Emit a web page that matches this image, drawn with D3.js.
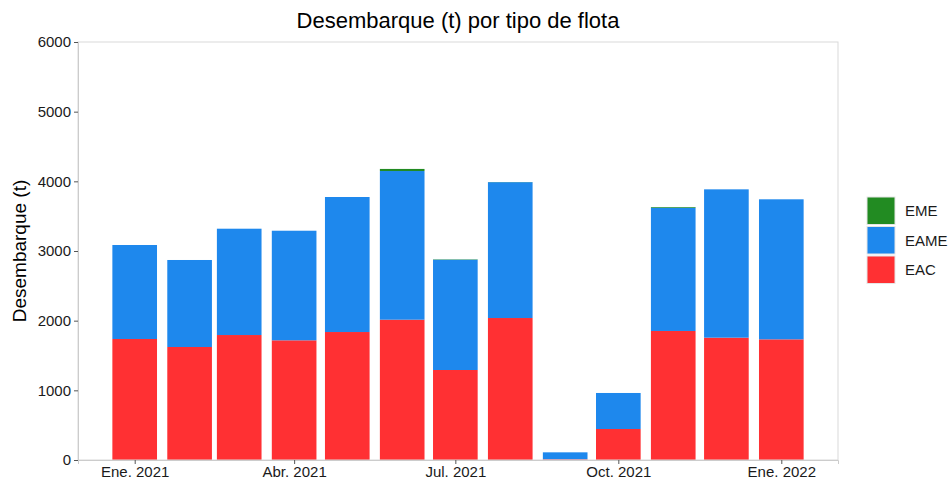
<!DOCTYPE html>
<html>
<head>
<meta charset="utf-8">
<script src="https://cdn.jsdelivr.net/npm/d3@7"></script>
<style>
  body { margin: 0; background: #fff; }
  text { font-family: "Liberation Sans", Arial, sans-serif; }
</style>
</head>
<body>
<script>
// monthly landings (t) by fleet type
const months = ["2021-01-01", "2021-02-01", "2021-03-01", "2021-04-01", "2021-05-01", "2021-06-01",
  "2021-07-01", "2021-08-01", "2021-09-01", "2021-10-01", "2021-11-01", "2021-12-01", "2022-01-01"];
const eac = [1737, 1622, 1794, 1718, 1837, 2014, 1292, 2038, 10, 445, 1852, 1756, 1732];
const eame = [1349, 1249, 1526, 1573, 1938, 2134, 1583, 1950, 100, 517, 1769, 2129, 2010];
const eme = [0, 0, 0, 0, 0, 30, 5, 2, 0, 0, 10, 0, 0];
const series = ["EAC", "EAME", "EME"];
const yTicks = [0, 1000, 2000, 3000, 4000, 5000, 6000];
const xTickDates = ["2021-01-01", "2021-04-01", "2021-07-01", "2021-10-01", "2022-01-01"];
const xTickLabels = ["Ene. 2021", "Abr. 2021", "Jul. 2021", "Oct. 2021", "Ene. 2022"];

const colors = { EAC: "#ff3033", EAME: "#1e88ed", EME: "#228b22" };

const w = 949, h = 482;
const pLeft = 78, pRight = 838, pTop = 42, pBottom = 460;
const parse = d3.utcParse("%Y-%m-%d");
const DAY = 864e5;

const svg = d3.select("body").append("svg").attr("width", w).attr("height", h);

const x = d3.scaleUtc()
  .domain([parse("2020-11-30"), parse("2022-02-02")])
  .range([pLeft, pRight]);
const y = d3.scaleLinear().domain([0, 6000]).range([pBottom, pTop]);

// table for the stack
const rows = months.map(function (m, i) {
  return { date: parse(m), EAC: eac[i], EAME: eame[i], EME: eme[i] };
});
const stacked = d3.stack().keys(series)(rows);

const barDays = 0.9 * 28;

svg.append("g")
  .selectAll("g")
  .data(stacked)
  .join("g")
  .attr("fill", function (s) { return colors[s.key]; })
  .selectAll("rect")
  .data(function (s) { return s; })
  .join("rect")
  .attr("x", function (d) { return x(new Date(+d.data.date - barDays / 2 * DAY)); })
  .attr("width", function (d) {
    return x(new Date(+d.data.date + barDays / 2 * DAY)) - x(new Date(+d.data.date - barDays / 2 * DAY));
  })
  .attr("y", function (d) { return y(d[1]); })
  .attr("height", function (d) { return y(d[0]) - y(d[1]); });

// panel border
svg.append("rect")
  .attr("x", pLeft).attr("y", pTop)
  .attr("width", pRight - pLeft).attr("height", pBottom - pTop)
  .attr("fill", "none").attr("stroke", "#d9d9d9").attr("stroke-width", 1);

// y axis
const yAxis = svg.append("g")
  .attr("transform", `translate(${pLeft},0)`)
  .call(d3.axisLeft(y).tickValues(yTicks).tickSize(4).tickPadding(3).tickFormat(d3.format("d")));
yAxis.select(".domain").attr("stroke", "#cccccc");
yAxis.selectAll(".tick line").attr("stroke", "#555");
yAxis.selectAll(".tick text").attr("font-size", 15).attr("fill", "#1a1a1a")
  .attr("font-family", "Liberation Sans, Arial, sans-serif");

// x axis
const xAxis = svg.append("g")
  .attr("transform", `translate(0,${pBottom})`)
  .call(d3.axisBottom(x)
    .tickValues(xTickDates.map(parse))
    .tickSize(4).tickPadding(2)
    .tickFormat(function (d, i) { return xTickLabels[i]; }));
xAxis.select(".domain").attr("stroke", "#cccccc");
xAxis.selectAll(".tick line").attr("stroke", "#555");
xAxis.selectAll(".tick text").attr("font-size", 15).attr("fill", "#1a1a1a")
  .attr("font-family", "Liberation Sans, Arial, sans-serif");

// titles
svg.append("text")
  .attr("x", (pLeft + pRight) / 2).attr("y", 28)
  .attr("text-anchor", "middle")
  .attr("font-size", 22).attr("fill", "#000")
  .text("Desembarque (t) por tipo de flota");

svg.append("text")
  .attr("transform", `translate(26,${(pTop + pBottom) / 2}) rotate(-90)`)
  .attr("text-anchor", "middle")
  .attr("font-size", 19).attr("fill", "#000")
  .text("Desembarque (t)");

// legend
const legendKeys = ["EME", "EAME", "EAC"];
const legend = svg.append("g").attr("transform", "translate(867,197)");
const item = legend.selectAll("g")
  .data(legendKeys)
  .join("g")
  .attr("transform", function (d, i) { return `translate(0,${i * 29.5})`; });
item.append("rect")
  .attr("width", 28).attr("height", 27.5)
  .attr("fill", function (d) { return colors[d]; })
  .attr("stroke", "#e6e6e6").attr("stroke-width", 1);
item.append("text")
  .attr("x", 38).attr("y", 14).attr("dy", "0.35em")
  .attr("font-size", 15).attr("fill", "#1a1a1a")
  .text(function (d) { return d; });
</script>
</body>
</html>
